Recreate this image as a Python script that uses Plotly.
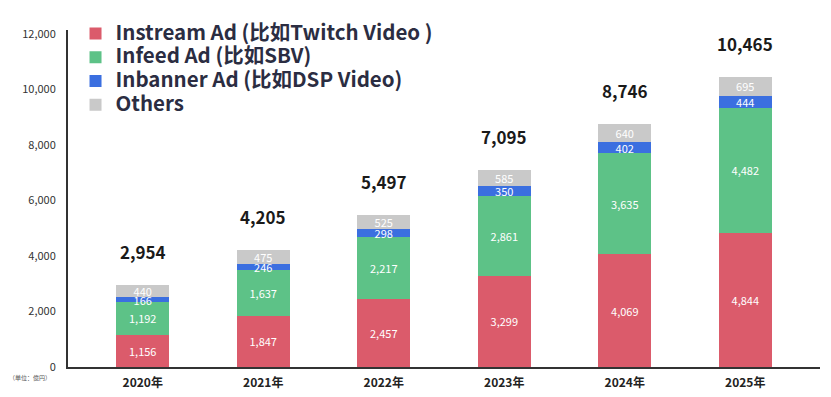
import plotly.graph_objects as go

years = ["2020年", "2021年", "2022年", "2023年", "2024年", "2025年"]
instream = [1156, 1847, 2457, 3299, 4069, 4844]
infeed = [1192, 1637, 2217, 2861, 3635, 4482]
inbanner = [166, 246, 298, 350, 402, 444]
others = [440, 475, 525, 585, 640, 695]
totals = [2954, 4205, 5497, 7095, 8746, 10465]
names = ["Instream Ad (比如Twitch Video )", "Infeed Ad (比如SBV)", "Inbanner Ad (比如DSP Video)", "Others"]
colors = ["#db5b6b", "#5dc287", "#3b6fe0", "#c9c9c9"]
ytick_vals = [0, 2000, 4000, 6000, 8000, 10000, 12000]

FONT = "Noto Sans CJK SC, Noto Sans, sans-serif"

fig = go.Figure()
for name, vals, col in zip(names, [instream, infeed, inbanner, others], colors):
    fig.add_trace(go.Bar(
        x=years, y=vals, name=f"<span style='font-size:20.5px'><b>{name}</b></span>",
        marker=dict(color=col, line=dict(width=0)),
        width=0.44,
        text=[f"{v:,}" for v in vals], textposition="inside", insidetextanchor="middle",
        textfont=dict(color="white", size=11, family=FONT),
        constraintext="none", cliponaxis=False,
    ))

for x, t in zip(years, totals):
    fig.add_annotation(x=x, y=t, text=f"<b>{t:,}</b>", showarrow=False,
                       yanchor="bottom", yshift=19,
                       font=dict(size=17, color="#1a1a1a", family=FONT))

fig.add_annotation(xref="paper", yref="paper", x=-0.05, y=-0.03, text="（単位：億円）",
                   showarrow=False, xanchor="center", yanchor="middle",
                   font=dict(size=6, color="#555", family=FONT))

fig.update_layout(
    width=831, height=397,
    barmode="stack",
    paper_bgcolor="white", plot_bgcolor="white",
    margin=dict(l=60, r=19, t=22, b=38, autoexpand=False),
    font=dict(family=FONT, color="#333"),
    uniformtext=dict(minsize=8, mode="show"),
    legend=dict(x=0.01, y=1.04, xanchor="left", yanchor="top", traceorder="normal",
                bgcolor="rgba(0,0,0,0)", tracegroupgap=0,
                font=dict(size=16, color="#2b2d42", family=FONT)),
    xaxis=dict(range=[-0.62, 5.62], showline=True, linecolor="#333", linewidth=2,
               ticks="", tickfont=dict(size=12, color="#222", family=FONT),
               showgrid=False, zeroline=False, ticklabelstandoff=4,
               tickvals=years, ticktext=[f"<b>{y}</b>" for y in years]),
    yaxis=dict(range=[0, 12150], tickvals=ytick_vals, tickformat=",", showline=True,
               linecolor="#333", linewidth=2, ticks="", showgrid=False, zeroline=False,
               tickfont=dict(size=11, color="#333", family=FONT), ticklabelstandoff=8),
    showlegend=True,
)

fig.write_html("out.html")
